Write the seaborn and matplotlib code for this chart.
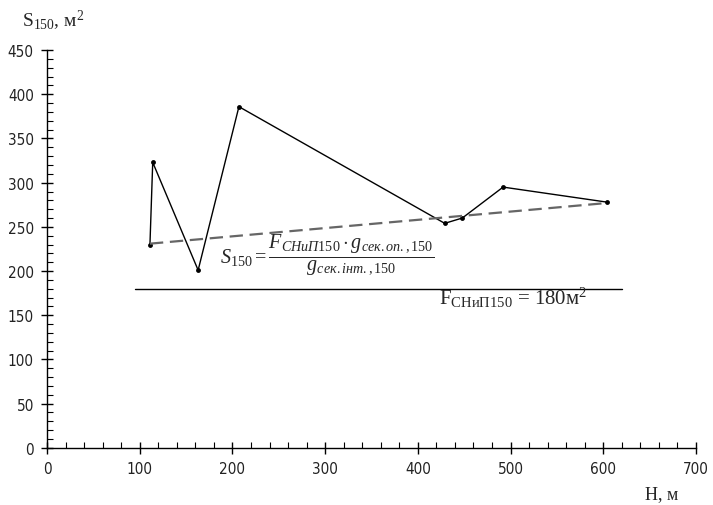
import numpy as np
import pandas as pd
import seaborn as sns
import matplotlib.pyplot as plt
from matplotlib.ticker import MultipleLocator

# data
H = [111, 114, 163, 207, 429, 448, 492, 604]
S = [230, 323, 201, 386, 254, 260, 295, 278]
trend_H = [111, 604]
trend_S = [231, 277]
snip_H = [95, 620]
snip_S = [180, 180]

df = pd.DataFrame({"H": H, "S": S})

sns.set_theme(style="white")
plt.rcParams['font.family'] = ['Liberation Serif', 'DejaVu Serif']
plt.rcParams['mathtext.fontset'] = 'custom'
plt.rcParams['mathtext.rm'] = 'Liberation Serif'
plt.rcParams['mathtext.it'] = 'Liberation Serif:italic'

fig = plt.figure(figsize=(7.13, 5.06), dpi=100)
ax = fig.add_axes([0.066, 0.113, 0.91, 0.786])

sns.lineplot(data=df, x="H", y="S", sort=False, color="black", lw=1.0,
             marker="o", markersize=3.5, markeredgewidth=0, ax=ax)
sns.lineplot(x=trend_H, y=trend_S, color="#666666", lw=1.6,
             dashes=False, linestyle=(0, (6, 3)), ax=ax)
sns.lineplot(x=snip_H, y=snip_S, color="black", lw=1.0, ax=ax)

ax.set_xlim(0, 700)
ax.set_ylim(0, 450)
ax.xaxis.set_major_locator(MultipleLocator(100))
ax.xaxis.set_minor_locator(MultipleLocator(20))
ax.yaxis.set_major_locator(MultipleLocator(50))
ax.yaxis.set_minor_locator(MultipleLocator(10))
for s in ["top", "right"]:
    ax.spines[s].set_visible(False)
for s in ["left", "bottom"]:
    ax.spines[s].set_color("black")
    ax.spines[s].set_linewidth(1.0)
ax.tick_params(which="major", direction="inout", length=9, width=1, color="black",
               labelsize=11, pad=5)
ax.tick_params(which="minor", direction="in", length=4, width=0.8, color="black")
ax.tick_params(axis="both", which="both", bottom=True, left=True)
for lab in ax.get_xticklabels() + ax.get_yticklabels():
    lab.set_family('DejaVu Sans')
    lab.set_stretch('condensed')
    lab.set_color("#222222")
ax.set_xlabel("")
ax.set_ylabel("")

fig.text(0.031, 0.958, r"S$_{150}$, м$^2$", fontsize=14, ha="left", va="center")
fig.text(0.905, 0.022, "H, м", fontsize=13, ha="left", va="center")

ax.text(187, 219, r"$S_{150} = \dfrac{F_{СНиП150}\cdot g_{сек.оп.,150}}{g_{сек.інт.,150}}$",
        fontsize=14.5, ha="left", va="center")
ax.text(503, 171, r"F$_{\mathrm{СНиП150}}$ = 180м$^2$", fontsize=15,
        ha="center", va="center")

fig.savefig("out.png", dpi=100)
